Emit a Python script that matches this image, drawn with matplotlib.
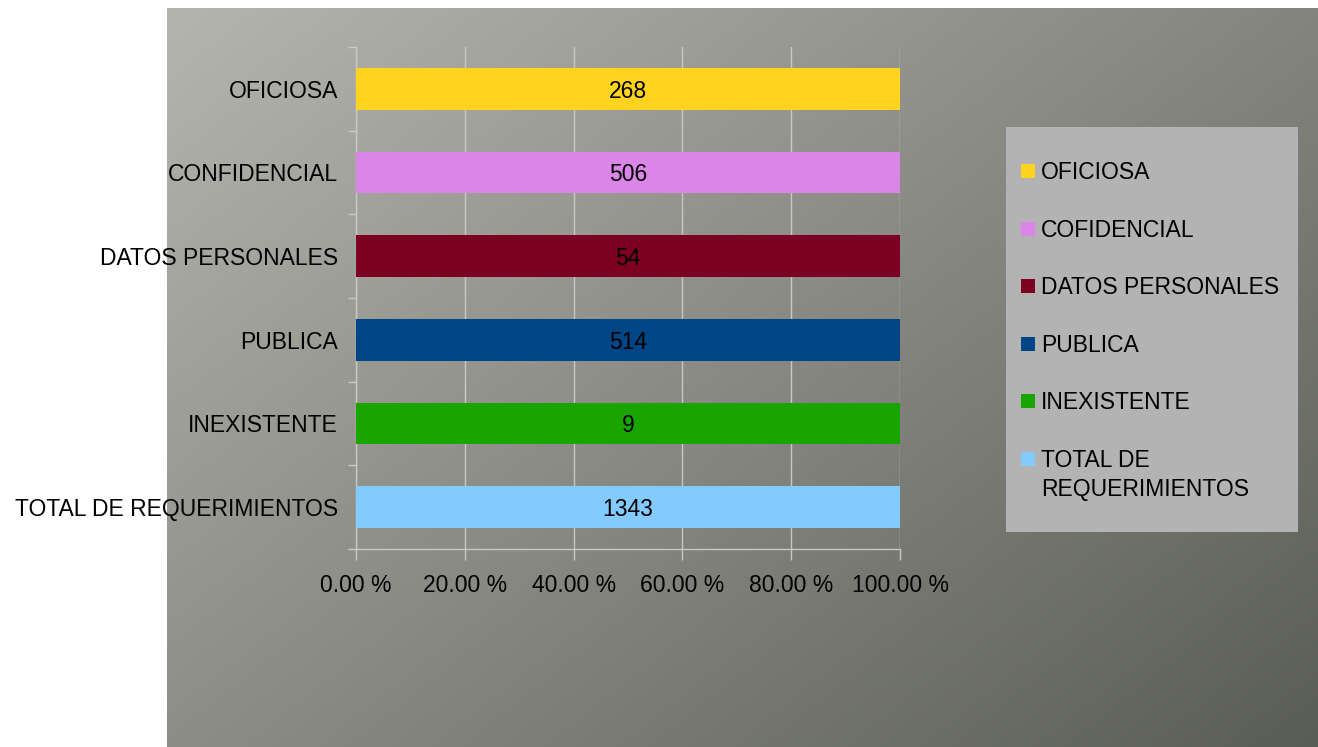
import numpy as np
import matplotlib
matplotlib.use('Agg')
import matplotlib.pyplot as plt
from matplotlib.patches import Rectangle

plt.rcParams['font.family'] = ['Liberation Sans', 'DejaVu Sans']
plt.rcParams['font.size'] = 16.5

# data, bottom to top as drawn
categories = ['TOTAL DE REQUERIMIENTOS', 'INEXISTENTE', 'PUBLICA',
              'DATOS PERSONALES', 'CONFIDENCIAL', 'OFICIOSA']
counts = [1343, 9, 514, 54, 506, 268]
colors = ['#83caff', '#19a400', '#004586', '#7e0021', '#dc85e9', '#ffd320']

legend_labels = ['OFICIOSA', 'COFIDENCIAL', 'DATOS PERSONALES', 'PUBLICA',
                 'INEXISTENTE', 'TOTAL DE\nREQUERIMIENTOS']
legend_colors = ['#ffd320', '#dc85e9', '#7e0021', '#004586', '#19a400', '#83caff']

xticks = [0, 20, 40, 60, 80, 100]

W, H = 1318, 747
fig = plt.figure(figsize=(W / 100, H / 100), dpi=100)
fig.patch.set_facecolor('white')

# gradient backdrop
bg = fig.add_axes([167 / W, 0, 1 - 167 / W, (H - 8) / H])
bg.set_axis_off()
gx, gy = np.meshgrid(np.linspace(0, 1, 400), np.linspace(0, 1, 300))
t = (gx * 0.55 + gy * 0.45)
light = np.array([0xb4, 0xb6, 0xae]) / 255
dark = np.array([0x5a, 0x5c, 0x56]) / 255
img = light[None, None, :] * (1 - t[..., None]) + dark[None, None, :] * t[..., None]
bg.imshow(img, aspect='auto', extent=[0, 1, 1, 0], interpolation='bilinear')
bg.set_xlim(0, 1)
bg.set_ylim(1, 0)

ax = fig.add_axes([356 / W, (H - 549) / H, 544 / W, 502 / H])
ax.patch.set_alpha(0)

# each category is its own series, so 100% stacking fills the bar
share = [c / c * 100 for c in counts]
ypos = np.arange(len(categories))
bars = ax.barh(ypos, share, height=0.5, color=colors, zorder=3)
for b, c in zip(bars, counts):
    ax.text(b.get_width() / 2, b.get_y() + b.get_height() / 2, str(c),
            ha='center', va='center_baseline', color='black', zorder=4)

ax.set_xlim(0, 100)
ax.set_ylim(-0.5, len(categories) - 0.5)
ax.set_xticks(xticks)
ax.set_xticklabels(['%.2f %%' % v for v in xticks])
ax.set_yticks(ypos)
ax.set_yticklabels(categories)
ax.set_yticks(np.arange(-0.5, len(categories)), minor=True)
ax.tick_params(axis='y', which='major', length=0, pad=13)
ax.tick_params(axis='y', which='minor', length=6, color='#c8c8c8', width=1)
ax.tick_params(axis='x', length=8, color='#c8c8c8', width=1, pad=10)
ax.grid(axis='x', color='#c8c8c8', linewidth=1, zorder=1)
for side in ['top', 'right']:
    ax.spines[side].set_visible(False)
for side in ['left', 'bottom']:
    ax.spines[side].set_color('#c8c8c8')
    ax.spines[side].set_linewidth(1)

# legend box, drawn in pixel-based figure coords
def fx(px):
    return px / W

def fy(py):
    return 1 - py / H

fig.patches.append(Rectangle((fx(1006), fy(532)), fx(1298) - fx(1006), fy(127) - fy(532),
                             transform=fig.transFigure, facecolor='#b3b3b3',
                             edgecolor='none', zorder=5))
row_y = 171
for lab, col in zip(legend_labels, legend_colors):
    fig.patches.append(Rectangle((fx(1021), fy(row_y + 7)), fx(14), 14 / H,
                                 transform=fig.transFigure, facecolor=col,
                                 edgecolor='none', zorder=6))
    fig.text(fx(1041), fy(row_y - 10), lab, ha='left', va='top',
             linespacing=1.35, zorder=7)
    row_y += 57.6

fig.savefig('out.png', dpi=100)
